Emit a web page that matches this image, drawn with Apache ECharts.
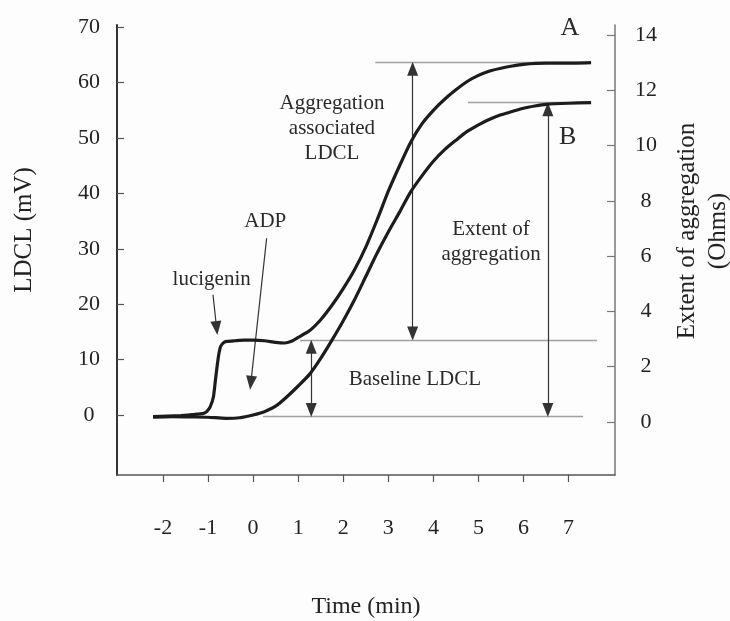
<!DOCTYPE html>
<html>
<head>
<meta charset="utf-8">
<script src="https://cdn.jsdelivr.net/npm/echarts@6/dist/echarts.min.js"></script>
<style>
html,body{margin:0;padding:0;background:#fdfdfd;}
#chart{width:730px;height:621px;}
</style>
</head>
<body>
<div id="chart"></div>
<script>
// ---- data ----
const timeA = [-2.22,-1.9,-1.6,-1.3,-1.1,-1.03,-0.95,-0.88,-0.84,-0.80,-0.76,-0.72,-0.65,-0.58,-0.4,-0.2,0,0.25,0.5,0.7,0.85,1.0,1.25,1.5,1.75,2.0,2.25,2.5,2.75,3.0,3.25,3.5,3.75,4.0,4.25,4.5,4.75,5.0,5.25,5.5,5.75,6.0,6.5,7.0,7.5];
const ldclA = [-0.3,-0.2,-0.1,0.1,0.3,0.6,1.5,3.3,6.0,8.7,11.0,12.4,13.1,13.3,13.4,13.5,13.5,13.4,13.1,13.0,13.3,14.0,15.2,17.2,19.8,22.8,26.2,30.3,35.2,40.4,45.0,49.3,52.6,55.0,57.0,58.7,60.2,61.3,62.1,62.6,63.0,63.3,63.5,63.5,63.6];

const timeB = [-2.22,-1.8,-1.4,-1.0,-0.6,-0.3,0,0.25,0.5,0.75,1.0,1.25,1.5,1.75,2.0,2.25,2.5,2.75,3.0,3.25,3.5,3.75,4.0,4.25,4.5,4.75,5.0,5.25,5.5,5.75,6.0,6.25,6.5,7.0,7.5];
const aggB = [0.17,0.19,0.18,0.17,0.13,0.15,0.25,0.37,0.57,0.91,1.30,1.72,2.30,2.96,3.66,4.42,5.26,6.10,6.87,7.59,8.33,8.91,9.43,9.85,10.19,10.51,10.75,10.95,11.11,11.23,11.35,11.43,11.49,11.53,11.55];

const xTicks = [-2,-1,0,1,2,3,4,5,6,7];
const leftTicks = [0,10,20,30,40,50,60,70];
const rightTicks = [0,2,4,6,8,10,12,14];

// reference levels (LDCL units)
const levelA = 63.7, levelB = 56.4, levelBase = 13.5, levelZero = -0.3;
// half arrow-head length expressed in LDCL units
const head = 1.2;

const font = 'Liberation Serif';
const ink = '#1c1c1c';
const grayLine = '#a0a0a0';
const arrowCol = '#333';

const chart = echarts.init(document.getElementById('chart'), null, {renderer:'canvas'});

function seg(x1,y1,x2,y2,s1,s2,col,w){
  return [
    {coord:[x1,y1], symbol:s1, lineStyle:{color:col,width:w,type:'solid'}},
    {coord:[x2,y2], symbol:s2}
  ];
}
function txt(x,y,text,size,lh){
  return {coord:[x,y], symbol:'circle', symbolSize:0,
    label:{show:true, position:'inside', formatter:text, fontFamily:font, fontSize:size, lineHeight:lh||size*1.2, color:'#2a2a2a'}};
}

const option = {
  backgroundColor:'#fdfdfd',
  animation:false,
  grid:{left:117, right:115, top:25, bottom:146, containLabel:false, outerBoundsMode:'none'},
  xAxis:{
    type:'value', min:-3.02, max:8.03,
    axisLine:{show:true, onZero:false, lineStyle:{color:'#555', width:1.5}},
    axisTick:{show:true, customValues:xTicks, length:7, inside:false, lineStyle:{color:'#555', width:1.2}},
    axisLabel:{customValues:xTicks, margin:42, fontFamily:font, fontSize:22, color:'#222'},
    splitLine:{show:false},
    name:'Time (min)', nameLocation:'middle', nameGap:120,
    nameTextStyle:{fontFamily:font, fontSize:24, color:'#222'}
  },
  yAxis:[{
    type:'value', position:'left', min:-10.83, max:70.4,
    axisLine:{show:true, onZero:false, lineStyle:{color:'#333', width:2}},
    axisTick:{show:true, inside:true, customValues:leftTicks, length:7, lineStyle:{color:'#555', width:1.2}},
    axisLabel:{customValues:leftTicks, margin:28, align:'center', fontFamily:font, fontSize:22, color:'#222'},
    splitLine:{show:false},
    name:'LDCL (mV)', nameLocation:'middle', nameGap:80,
    nameTextStyle:{fontFamily:font, fontSize:25, color:'#222', padding:[0,0,0,40]}
  },{
    type:'value', position:'right', min:-1.92, max:14.36,
    axisLine:{show:true, onZero:false, lineStyle:{color:'#777', width:1.5}},
    axisTick:{show:true, inside:true, customValues:rightTicks, length:8, lineStyle:{color:'#777', width:1.2}},
    axisLabel:{customValues:rightTicks, margin:31, align:'center', fontFamily:font, fontSize:22, color:'#222'},
    splitLine:{show:false},
    name:'Extent of aggregation\n(Ohms)', nameLocation:'middle', nameGap:57,
    nameTextStyle:{fontFamily:font, fontSize:25, lineHeight:31, color:'#222', padding:[0,0,0,38]}
  }],
  series:[{
    name:'LDCL', type:'line', yAxisIndex:0,
    data: timeA.map((t,i)=>[t, ldclA[i]]),
    showSymbol:false, smooth:0.15,
    lineStyle:{color:ink, width:3.2},
    z:5,
    markLine:{
      silent:true, symbolSize:[11,14], label:{show:false}, animation:false,
      data:[
        seg(2.71,levelA,7.47,levelA,'none','none',grayLine,1.3),
        seg(4.77,levelB,7.47,levelB,'none','none',grayLine,1.3),
        seg(1.04,levelBase,7.63,levelBase,'none','none',grayLine,1.3),
        seg(0.22,levelZero,7.32,levelZero,'none','none',grayLine,1.3),
        seg(3.54,levelA-head,3.54,levelBase+head,'triangle','triangle',arrowCol,1.2),
        seg(1.29,levelBase-head,1.29,levelZero+head,'triangle','triangle',arrowCol,1.2),
        seg(6.54,levelB-head,6.54,levelZero+head,'triangle','triangle',arrowCol,1.2),
        seg(-0.89,21.7,-0.81,15.7,'none','triangle',arrowCol,1.2),
        seg(0.30,31.9,-0.05,5.8,'none','triangle',arrowCol,1.2)
      ]
    },
    markPoint:{
      silent:true, animation:false,
      data:[
        txt(7.03,69.8,'A',26),
        txt(6.98,50.2,'B',26),
        txt(1.75,51.8,'Aggregation\nassociated\nLDCL',21,25),
        txt(0.27,34.9,'ADP',21),
        txt(-0.92,24.4,'lucigenin',21),
        txt(5.28,31.2,'Extent of\naggregation',21,25),
        txt(3.59,6.4,'Baseline LDCL',21)
      ]
    }
  },{
    name:'Aggregation', type:'line', yAxisIndex:1,
    data: timeB.map((t,i)=>[t, aggB[i]]),
    showSymbol:false, smooth:0.25,
    lineStyle:{color:ink, width:3.2},
    z:5
  }]
};
chart.setOption(option);
</script>
</body>
</html>
